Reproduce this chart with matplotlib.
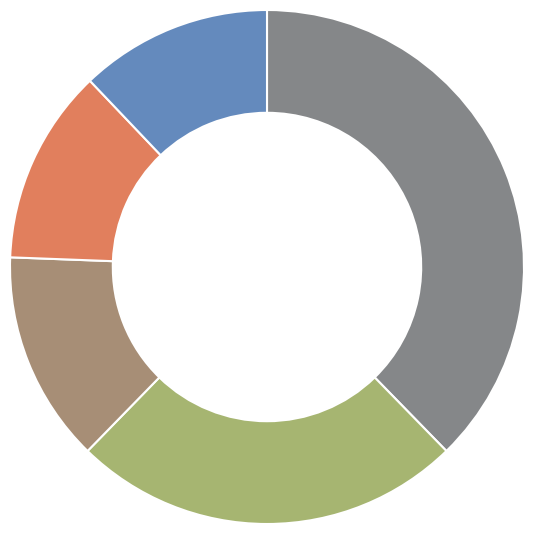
import matplotlib
matplotlib.use("Agg")
import matplotlib.pyplot as plt

labels = ["Gray", "Green", "Brown", "Orange", "Blue"]
values = [37.7, 24.6, 13.3, 12.3, 12.1]
colors = ["#858789", "#A6B571", "#A78E76", "#E17F5D", "#648ABD"]

fig = plt.figure(figsize=(5.38, 5.35), dpi=100)
ax = fig.add_axes([0, 0, 1, 1])
ax.pie(values, colors=colors, startangle=90, counterclock=False,
       radius=1.0, wedgeprops=dict(width=0.4, edgecolor="white", linewidth=1.5))
ax.set_xlim(-267/257, 271/257)
ax.set_ylim(-268/257, 267/257)
ax.set_aspect("auto")
ax.axis("off")
fig.savefig("out.png", dpi=100, facecolor="white")
